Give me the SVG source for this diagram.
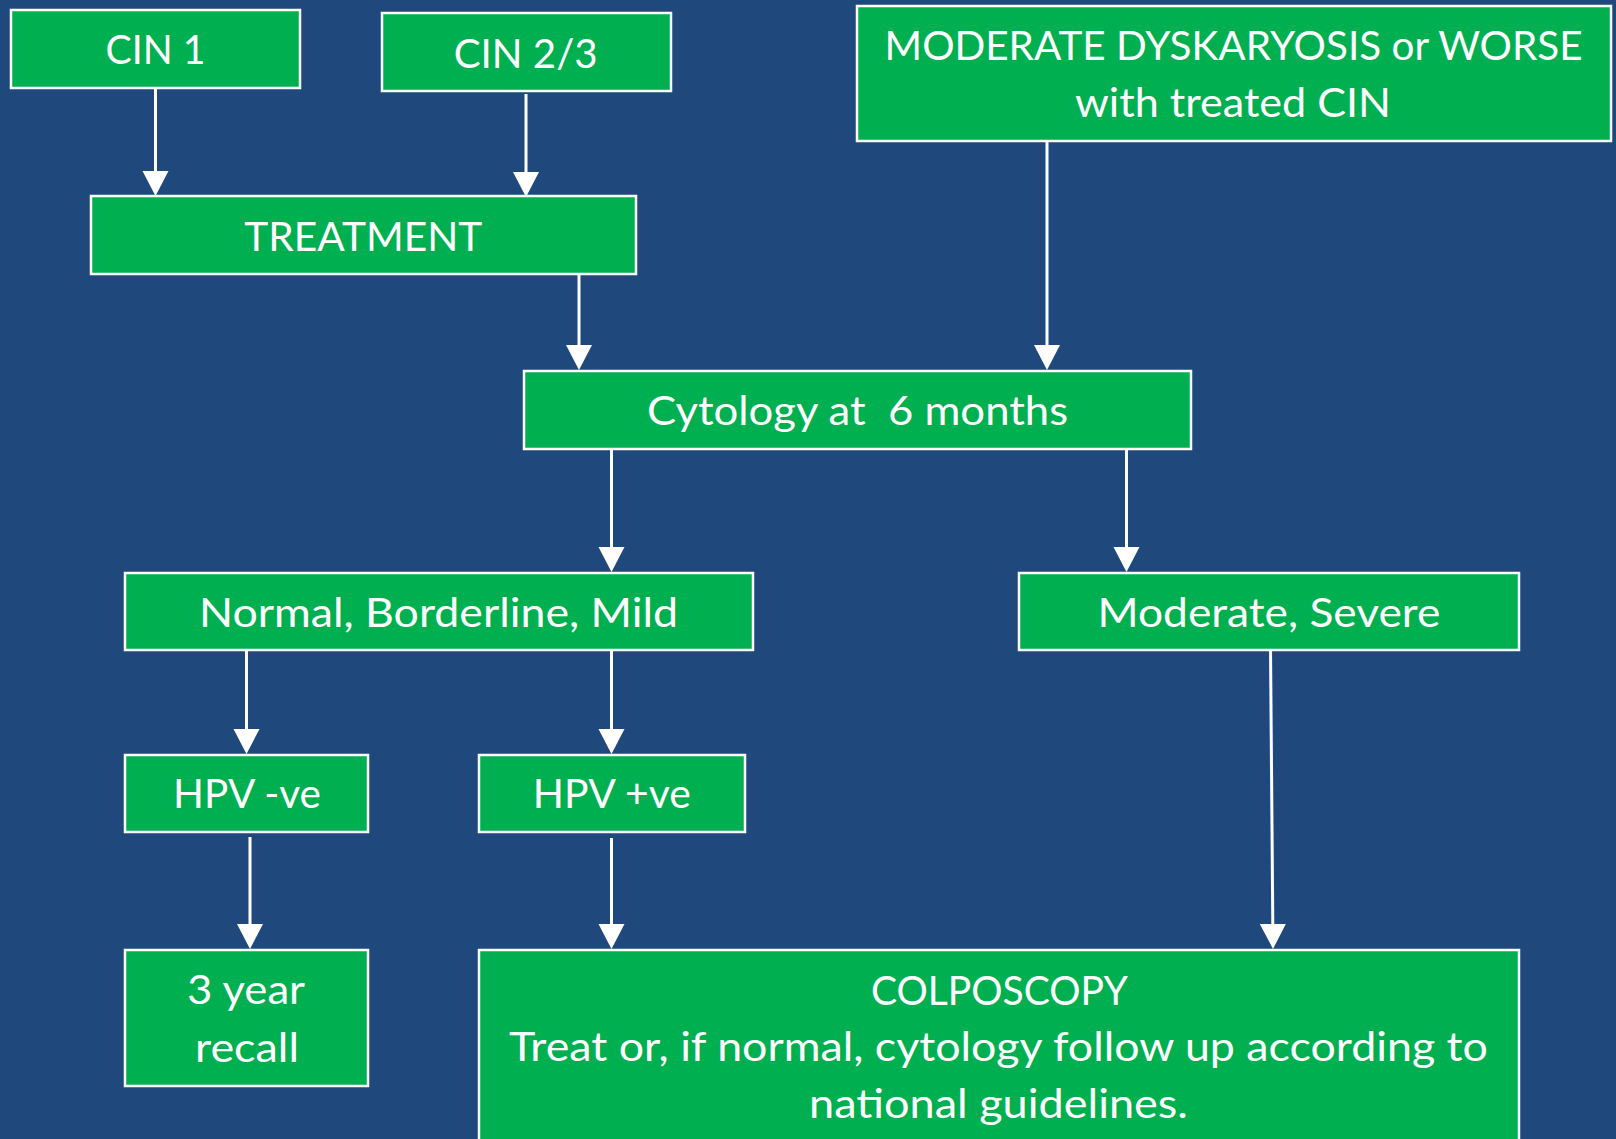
<svg xmlns="http://www.w3.org/2000/svg" width="1616" height="1139" viewBox="0 0 1616 1139">
  <defs>
    <style>
      .box { fill: #00B050; stroke: #FFFFFF; stroke-width: 2.5; }
      .lbl { fill: #FFFFFF; font-family: Lato, "Open Sans", "Liberation Sans", sans-serif; font-size: 41px; text-anchor: middle; white-space: pre; }
      .edge { fill: none; stroke: #FFFFFF; stroke-width: 3; marker-end: url(#head); }
    </style>
    <marker id="head" markerUnits="userSpaceOnUse" markerWidth="26" markerHeight="27" viewBox="0 -13.5 26 27" refX="0" refY="0" orient="auto" overflow="visible">
      <path d="M0,-13 L25,0 L0,13 z" fill="#FFFFFF"/>
    </marker>
  </defs>

  <!-- background -->
  <rect x="0" y="0" width="1616" height="1139" fill="#1F497D"/>

  <!-- connectors: each path stops where its arrowhead begins -->
  <g id="connectors">
    <path class="edge" d="M155.5,89 L155.5,171"/>
    <path class="edge" d="M526,94 L526,172"/>
    <path class="edge" d="M1047,142 L1047,345"/>
    <path class="edge" d="M579,274 L579,345"/>
    <path class="edge" d="M611.5,449 L611.5,547"/>
    <path class="edge" d="M1126.5,449 L1126.5,547"/>
    <path class="edge" d="M246.5,650 L246.5,729"/>
    <path class="edge" d="M611.5,650 L611.5,729"/>
    <path class="edge" d="M250,837 L250,924"/>
    <path class="edge" d="M611.5,838 L611.5,924"/>
    <path class="edge" d="M1270.5,647 L1272.8,924"/>
  </g>

  <g id="cin1">
    <rect class="box" x="11" y="10" width="289" height="78"/>
    <text class="lbl" x="155.6" y="64.3" textLength="100" lengthAdjust="spacingAndGlyphs">CIN 1</text>
  </g>

  <g id="cin23">
    <rect class="box" x="382" y="13" width="289" height="78"/>
    <text class="lbl" x="525.7" y="68.3" textLength="144" lengthAdjust="spacingAndGlyphs">CIN 2/3</text>
  </g>

  <g id="moderate-dyskaryosis">
    <rect class="box" x="857" y="6" width="754" height="135"/>
    <text class="lbl" x="1233.6" y="60" textLength="698" lengthAdjust="spacingAndGlyphs">MODERATE DYSKARYOSIS or WORSE</text>
    <text class="lbl" x="1233" y="117.3" textLength="316" lengthAdjust="spacingAndGlyphs">with treated CIN</text>
  </g>

  <g id="treatment">
    <rect class="box" x="91" y="196" width="545" height="78"/>
    <text class="lbl" x="363.3" y="250.7" textLength="238" lengthAdjust="spacingAndGlyphs">TREATMENT</text>
  </g>

  <g id="cytology">
    <rect class="box" x="524" y="371" width="667" height="78"/>
    <text class="lbl" x="857.6" y="425" textLength="421" lengthAdjust="spacingAndGlyphs">Cytology at  6 months</text>
  </g>

  <g id="normal-borderline-mild">
    <rect class="box" x="125" y="573" width="628" height="77"/>
    <text class="lbl" x="438.5" y="626.7" textLength="479" lengthAdjust="spacingAndGlyphs">Normal, Borderline, Mild</text>
  </g>

  <g id="moderate-severe">
    <rect class="box" x="1019" y="573" width="500" height="77"/>
    <text class="lbl" x="1269" y="626.7" textLength="343" lengthAdjust="spacingAndGlyphs">Moderate, Severe</text>
  </g>

  <g id="hpv-negative">
    <rect class="box" x="125" y="755" width="243" height="77"/>
    <text class="lbl" x="247" y="808.3" textLength="148" lengthAdjust="spacingAndGlyphs">HPV -ve</text>
  </g>

  <g id="hpv-positive">
    <rect class="box" x="479" y="755" width="266" height="77"/>
    <text class="lbl" x="611.8" y="808.3" textLength="158" lengthAdjust="spacingAndGlyphs">HPV +ve</text>
  </g>

  <g id="three-year-recall">
    <rect class="box" x="125" y="950" width="243" height="136"/>
    <text class="lbl" x="246" y="1004.3" textLength="118" lengthAdjust="spacingAndGlyphs">3 year</text>
    <text class="lbl" x="247" y="1061.7" textLength="104" lengthAdjust="spacingAndGlyphs">recall</text>
  </g>

  <g id="colposcopy">
    <rect class="box" x="479" y="950" width="1040" height="200"/>
    <text class="lbl" x="999.4" y="1005" textLength="257" lengthAdjust="spacingAndGlyphs">COLPOSCOPY</text>
    <text class="lbl" x="998.4" y="1060.7" textLength="979" lengthAdjust="spacingAndGlyphs">Treat or, if normal, cytology follow up according to</text>
    <text class="lbl" x="998.5" y="1118.3" textLength="379" lengthAdjust="spacingAndGlyphs">national guidelines.</text>
  </g>
</svg>
